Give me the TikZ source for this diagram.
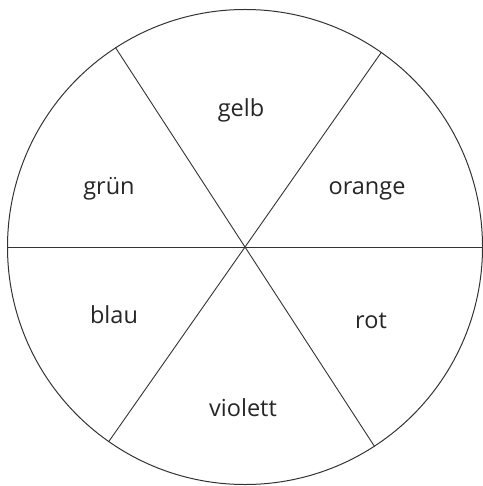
\documentclass[tikz,border=0pt]{standalone}
\usepackage{fontspec}
\setmainfont{Open Sans}
\begin{document}
\begin{tikzpicture}[x=1pt,y=-1pt,
  rim/.style={circle,draw=black!80,line width=1pt,inner sep=0pt,minimum size=475pt},
  spoke/.style={draw=black!80,line width=0.9pt},
  lbl/.style={font=\fontsize{23.5}{26}\selectfont,text=black!85,inner sep=0pt}]
\useasboundingbox (0,0) rectangle (482,486);
\node[rim] (wheel) at (245,247) {};
\coordinate (c) at (245,247);
\draw[spoke] (wheel.180) -- (wheel.0);
\draw[spoke] (wheel.123.2) -- (c) -- (wheel.303.6);
\draw[spoke] (wheel.55.6) -- (c) -- (wheel.235.7);
\node[lbl] (gelb) at (241,110) {gelb};
\node[lbl] (gruen) at (109,189) {grün};
\node[lbl] (orange) at (367,191) {orange};
\node[lbl] (blau) at (114,315) {blau};
\node[lbl] (rot) at (371,321) {rot};
\node[lbl] (violett) at (243,408) {violett};
\end{tikzpicture}
\end{document}
